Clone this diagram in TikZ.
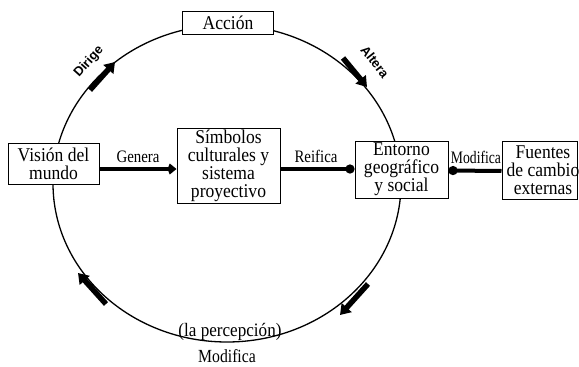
\documentclass[tikz,border=0pt]{standalone}
\usepackage{fontspec}
\setmainfont{Liberation Serif}[FakeStretch=0.9]
\setsansfont{Liberation Sans}
\newfontfamily\lblfont{Liberation Serif}[FakeStretch=0.85]
\newfontfamily\narrowfont{Liberation Serif}[FakeStretch=0.78]
\usetikzlibrary{arrows.meta}
\tikzset{
  box/.style={draw, line width=1pt, fill=white, inner sep=0pt, align=center,
    font=\fontsize{19.5}{18}\selectfont},
  lbl/.style={inner sep=0pt, font=\lblfont\fontsize{17.5}{17}\selectfont},
  rotlbl/.style={inner sep=0pt, font=\sffamily\bfseries\fontsize{13}{13}\selectfont},
  conn/.style={line width=4pt},
  circarrow/.style={line width=5.5pt, -{Triangle[width=13pt,length=10pt]}},
}
\begin{document}
\begin{tikzpicture}[x=1pt,y=-1pt]
\useasboundingbox (0,0) rectangle (579,367);
% cycle
\draw[line width=1.3pt] (227,183.5) ellipse [x radius=174pt, y radius=158.5pt];
% boxes
\node[box, minimum width=91pt, minimum height=23pt] (acc) at (228,22.5) {Acción};
\node[box, minimum width=91pt, minimum height=41pt] (vis) at (53.5,163.5) {Visión del\\mundo};
\node[box, minimum width=103pt, minimum height=75pt] (sym) at (228.5,165.5) {Símbolos\\culturales y\\sistema\\proyectivo};
\node[box, minimum width=93pt, minimum height=57pt] (ent) at (401.5,169.5) {Entorno\\geográfico\\y social};
\node[box, minimum width=75pt, minimum height=58pt] (fue) at (539.5,170) {};
\node[inner sep=0pt, align=center, font=\fontsize{19.5}{18}\selectfont] (fuet) at (543,170) {Fuentes\\de cambio\\externas};
% horizontal connectors
\draw[conn, -{Kite[width=11pt,length=9pt]}] ([yshift=-5.5pt]vis.east) -- ([yshift=-3.5pt]sym.west);
\draw[conn, -{Circle[length=9pt]}] ([yshift=-3.5pt]sym.east) -- ([yshift=0.5pt]ent.west);
\draw[conn, -{Circle[length=9pt]}] ([yshift=-1pt]fue.west) -- ([yshift=-1pt]ent.east);
\node[lbl] (lgen) at (138,157) {Genera};
\node[lbl] (lrei) at (316,156) {Reifica};
\node[inner sep=0pt, font=\narrowfont\fontsize{17.5}{17}\selectfont] (lmod) at (476,157.5) {Modifica};
% arrows on the cycle
\coordinate (d1) at (90,90);   \coordinate (d2) at (115,62);
\coordinate (a1) at (343,58);  \coordinate (a2) at (367,87);
\coordinate (r1) at (368,284); \coordinate (r2) at (340,315);
\coordinate (l1) at (106,304); \coordinate (l2) at (78,273);
\draw[circarrow] (d1) -- (d2);
\draw[circarrow] (a1) -- (a2);
\draw[circarrow] (r1) -- (r2);
\draw[circarrow] (l1) -- (l2);
\node[rotlbl, rotate=48] (ldir) at (89,62) {Dirige};
\node[rotlbl, rotate=-52] (lalt) at (375,62) {Altera};
% bottom labels
\node[inner sep=0pt, font=\fontsize{19}{18}\selectfont] (lper) at (230,332) {(la percepción)};
\node[inner sep=0pt, font=\lblfont\fontsize{18.5}{18}\selectfont] (lmod2) at (227,356) {Modifica};
\end{tikzpicture}
\end{document}
